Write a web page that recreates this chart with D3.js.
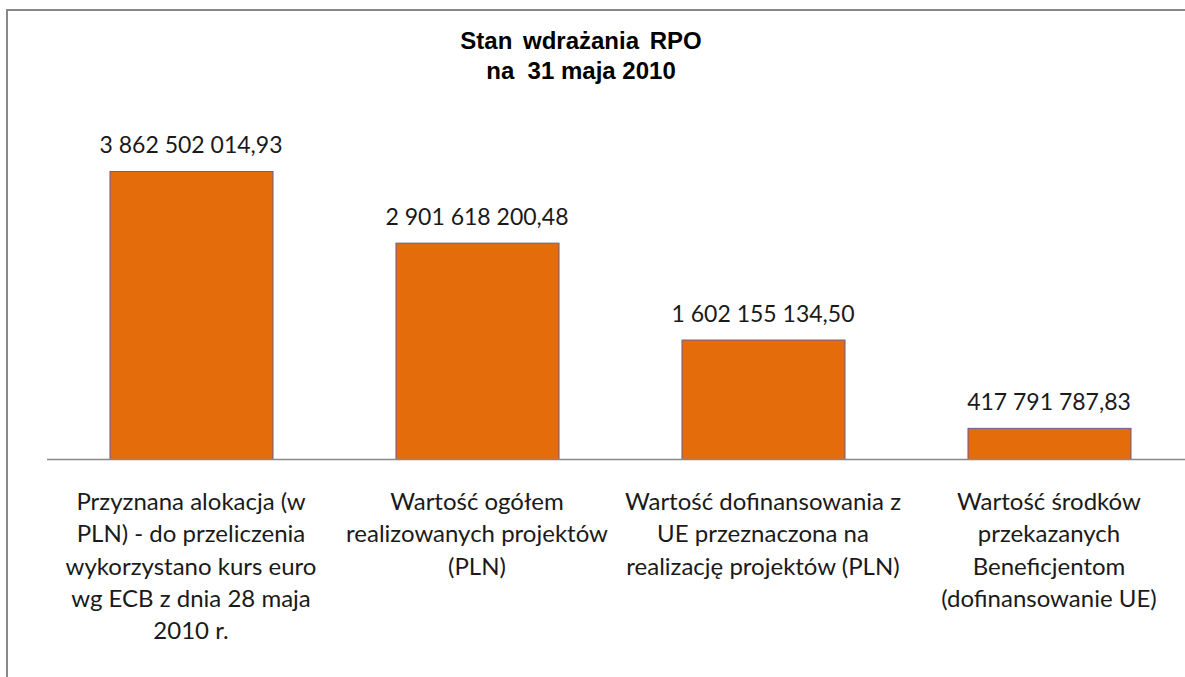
<!DOCTYPE html>
<meta charset="utf-8">
<style>
body { margin: 0; background: #fff; }
svg { display: block; }
.title { font-family: 'Liberation Sans', Arial, sans-serif; font-weight: bold; font-size: 24px; fill: #000; white-space: pre; }
.val { font-family: Lato, 'Open Sans', sans-serif; font-size: 23px; fill: #1a1a1a; }
.cat { font-family: Lato, 'Open Sans', sans-serif; font-size: 24px; fill: #1a1a1a; }
</style>
<body>
<div id="chart"></div>
<script src="https://d3js.org/d3.v7.min.js"></script>
<script>
var categories = [
    ['Przyznana alokacja (w', 'PLN) - do przeliczenia', 'wykorzystano kurs euro', 'wg ECB z dnia 28 maja', '2010 r.'],
    ['Wartość ogółem', 'realizowanych projektów', '(PLN)'],
    ['Wartość dofinansowania z', 'UE przeznaczona na', 'realizację projektów (PLN)'],
    ['Wartość środków', 'przekazanych', 'Beneficjentom', '(dofinansowanie UE)']
]
var values = [3862502014.93, 2901618200.48, 1602155134.50, 417791787.83]
var valueLabels = ['3 862 502 014,93', '2 901 618 200,48', '1 602 155 134,50', '417 791 787,83']
var titleLines = ['Stan wdrażania RPO', 'na  31 maja 2010']

var width = 1185
var height = 677
var baseY = 459

var svg = d3.select('#chart')
    .append('svg')
    .attr('width', width)
    .attr('height', height)

// frame (only top and left edges are visible in the crop)
svg.append('line')
    .attr('x1', 7).attr('x2', width).attr('y1', 10).attr('y2', 10)
    .style('stroke', '#888').style('stroke-width', 2)
svg.append('line')
    .attr('x1', 7).attr('x2', 7).attr('y1', 9).attr('y2', height)
    .style('stroke', '#888').style('stroke-width', 2)

var x = d3.scaleBand()
    .domain(d3.range(values.length))
    .range([48, 1192])
    .paddingInner(0.43)
    .paddingOuter(0.215)

var y = d3.scaleLinear()
    .domain([0, 3862502014.93])
    .range([baseY, 171])

svg.selectAll('rect.bar')
    .data(values)
    .enter()
    .append('rect')
    .attr('class', 'bar')
    .attr('x', function (d, i) { return x(i) + 0.5 })
    .attr('y', function (d) { return y(d) + 0.5 })
    .attr('width', x.bandwidth())
    .attr('height', function (d) { return baseY - y(d) })
    .style('fill', '#E46C0A')
    .style('stroke', '#6a5a9a')
    .style('stroke-width', 1)

svg.append('line')
    .attr('x1', 47).attr('x2', width).attr('y1', baseY + 0.5).attr('y2', baseY + 0.5)
    .style('stroke', '#888').style('stroke-width', 1.5)

svg.selectAll('text.val')
    .data(values)
    .enter()
    .append('text')
    .attr('class', 'val')
    .attr('x', function (d, i) { return x(i) + x.bandwidth() / 2 })
    .attr('y', function (d) { return y(d) - 18 })
    .attr('text-anchor', 'middle')
    .text(function (d, i) { return valueLabels[i] })

var cat = svg.selectAll('text.cat')
    .data(categories)
    .enter()
    .append('text')
    .attr('class', 'cat')
    .attr('text-anchor', 'middle')
cat.selectAll('tspan')
    .data(function (d, i) { return d.map(function (t) { return { t: t, i: i } }) })
    .enter()
    .append('tspan')
    .attr('x', function (d) { return x(d.i) + x.bandwidth() / 2 })
    .attr('y', function (d, j) { return 510 + j * 32.3 })
    .text(function (d) { return d.t })

svg.selectAll('text.title')
    .data(titleLines)
    .enter()
    .append('text')
    .attr('class', 'title')
    .attr('x', 581)
    .attr('y', function (d, i) { return 49 + i * 30 })
    .attr('text-anchor', 'middle')
    .attr('word-spacing', function (d, i) { return i === 0 ? 4 : 0 })
    .text(function (d) { return d })
</script>
</body>
